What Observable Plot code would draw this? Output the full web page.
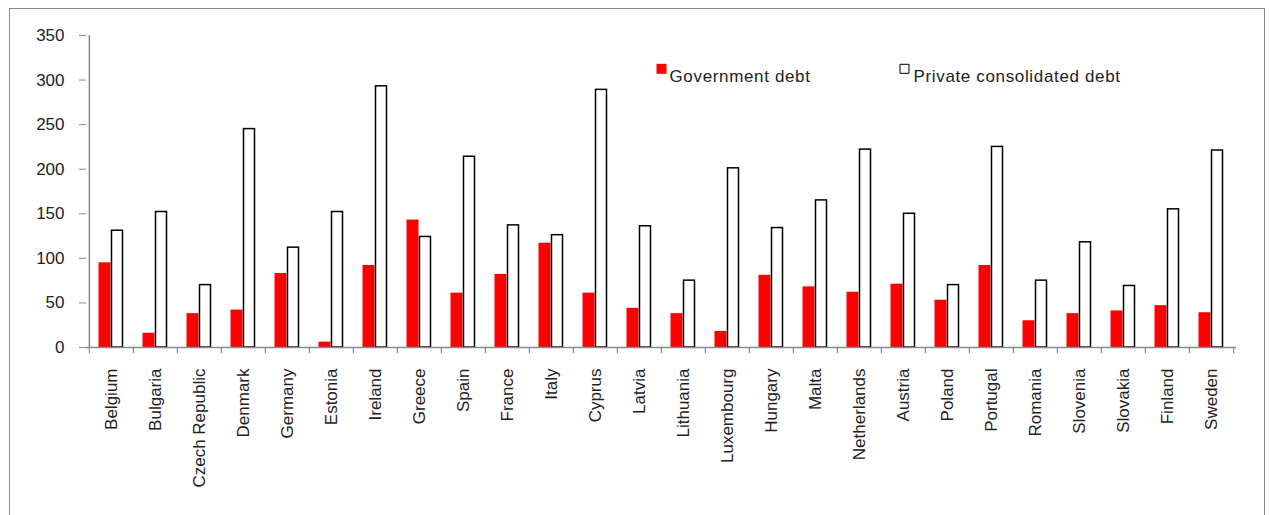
<!DOCTYPE html>
<html>
<head>
<meta charset="utf-8">
<script src="https://cdn.jsdelivr.net/npm/d3@7"></script>
<script src="https://cdn.jsdelivr.net/npm/@observablehq/plot@0.6"></script>
<style>
  html, body { margin: 0; padding: 0; background: #fff; overflow: hidden; }
  #wrap { position: relative; width: 1270px; height: 515px; }
  #border { position: absolute; left: 9px; top: 8px; width: 1256px; height: 540px;
            border: 1.5px solid #8a8a8a; box-sizing: border-box; pointer-events: none; }
  svg g[aria-label="text"] text { letter-spacing: 0.65px; }
</style>
</head>
<body>
<div id="wrap"><div id="border"></div></div>
<script>
const countries = ["Belgium","Bulgaria","Czech Republic","Denmark","Germany","Estonia","Ireland","Greece","Spain","France","Italy","Cyprus","Latvia","Lithuania","Luxembourg","Hungary","Malta","Netherlands","Austria","Poland","Portugal","Romania","Slovenia","Slovakia","Finland","Sweden"];
const governmentDebt = [95,16,38,42,83,6,92,143,61,82,117,61,44,38,18,81,68,62,71,53,92,30,38,41,47,39];
const privateDebt = [131,152,70,245,112,152,293,124,214,137,126,289,136,75,201,134,165,222,150,70,225,75,118,69,155,221];
const yTicks = [0,50,100,150,200,250,300,350];
const seriesNames = ["Government debt","Private consolidated debt"];

const gov = countries.map((c, i) => ({country: c, value: governmentDebt[i]}));
const priv = countries.map((c, i) => ({country: c, value: privateDebt[i]}));

const font = "'Liberation Sans', Arial, sans-serif";
const axisGray = "#8a8a8a";
const half = 1150 / countries.length / 2;

const chart = Plot.plot({
  width: 1270,
  height: 515,
  marginLeft: 86,
  marginRight: 34,
  marginTop: 35,
  marginBottom: 168,
  style: {fontFamily: font, fontSize: "17px", color: "#222", background: "transparent"},
  x: {domain: countries, padding: 0, label: null},
  y: {domain: [0, 350], label: null},
  marks: [
    Plot.barY(gov, {x: "country", y: "value", fill: "#ff0000", insetLeft: 9.5, insetRight: 22.5}),
    Plot.barY(priv, {x: "country", y: "value", fill: "#fff", stroke: "#000", strokeWidth: 1.5, insetLeft: 22.5, insetRight: 10.5}),
    Plot.ruleY([0], {stroke: axisGray, strokeWidth: 1.5}),
    Plot.ruleX([countries[0]], {x: d => d, dx: -half, y1: 0, y2: 350, stroke: axisGray, strokeWidth: 1.5}),
    Plot.ruleX(countries, {x: d => d, dx: -half, y1: 0, y2: -7, stroke: axisGray, strokeWidth: 1.2}),
    Plot.ruleX([countries[countries.length - 1]], {x: d => d, dx: half, y1: 0, y2: -7, stroke: axisGray, strokeWidth: 1.2}),
    Plot.axisY({ticks: yTicks, tickSize: 7, tickPadding: 15, stroke: axisGray, fill: "#222", fontSize: 17}),
    Plot.axisX({tickSize: 0, tickRotate: -90, tickPadding: 21, fill: "#222", fontSize: 17, label: null}),
    // legend
    Plot.dot([seriesNames[0]], {frameAnchor: "top-left", dx: 661 - 86, dy: 68.3 - 35, symbol: "square", r: 10 / Math.sqrt(Math.PI), fill: "#ff0000", stroke: null}),
    Plot.text([seriesNames[0]], {frameAnchor: "top-left", dx: 669 - 86, dy: 34.5, text: d => d, textAnchor: "start", fontSize: 17, fill: "#222"}),
    Plot.dot([seriesNames[1]], {frameAnchor: "top-left", dx: 904 - 86, dy: 68.3 - 35, symbol: "square", r: 9 / Math.sqrt(Math.PI), fill: "#fff", stroke: "#000", strokeWidth: 1}),
    Plot.text([seriesNames[1]], {frameAnchor: "top-left", dx: 913 - 86, dy: 34.5, text: d => d, textAnchor: "start", fontSize: 17, fill: "#222"})
  ]
});
document.getElementById("wrap").prepend(chart);
</script>
</body>
</html>
